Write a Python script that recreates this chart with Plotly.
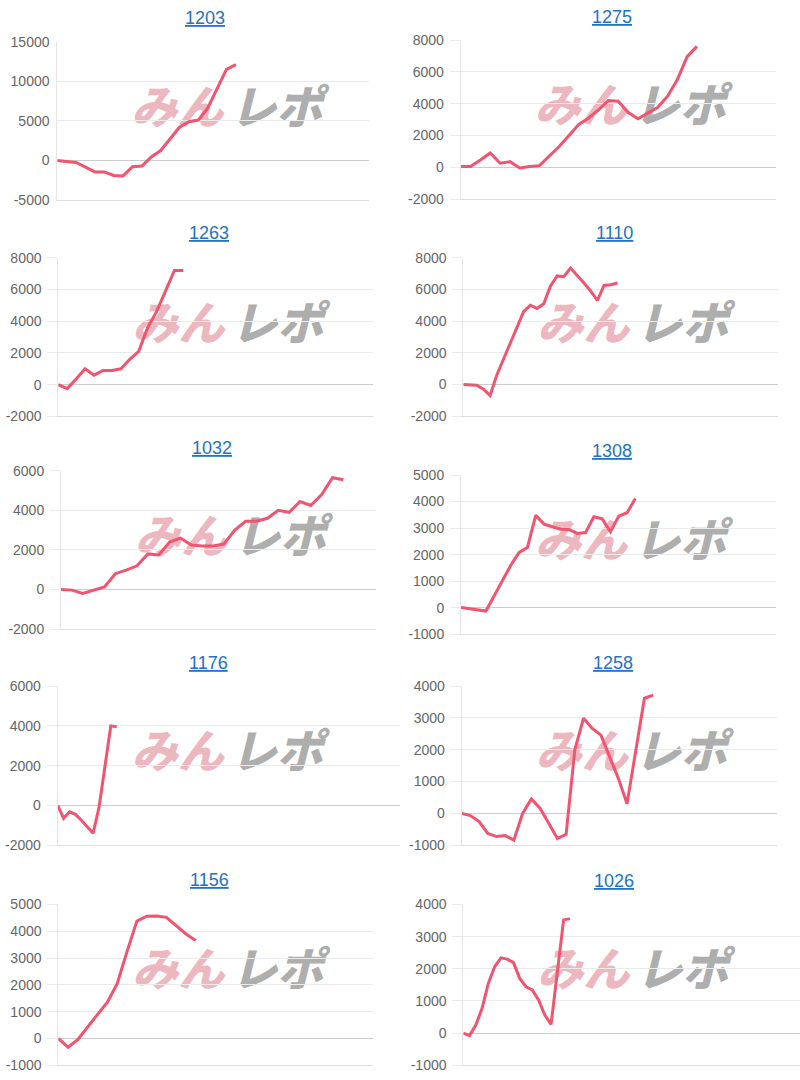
import plotly.graph_objects as go

# ---- data ----
titles = ["1203", "1275", "1263", "1110", "1032", "1308", "1176", "1258", "1156", "1026"]

s1203 = [0, -100, -250, -850, -1450, -1450, -1900, -1950, -800, -700, 450, 1250, 2700,
         4200, 4900, 5100, 6600, 9000, 11500, 12100]
s1275 = [50, 50, 450, 900, 250, 350, -50, 50, 100, 700, 1300, 2000, 2700, 3100, 3600,
         4200, 4150, 3450, 3050, 3400, 3750, 4450, 5500, 6950, 7600]
s1263 = [0, -250, 350, 1000, 600, 900, 900, 1000, 1600, 2100, 3600, 4600, 5900, 7200, 7200]
s1110 = [0, -30, -50, -300, -700, 600, 1600, 2600, 3700, 4600, 5000, 4800, 5100, 6200,
         6850, 6800, 7350, 6900, 6400, 5900, 5300, 6250, 6300, 6400]
s1032 = [0, -30, -200, -50, 130, 800, 980, 1200, 1800, 1750, 2400, 2600, 2250, 2200, 2200,
         2300, 3000, 3450, 3450, 3600, 4000, 3900, 4450, 4250, 4800, 5650, 5550]
s1308 = [0, -40, -80, -130, 450, 1050, 1600, 2080, 2270, 3480, 3150, 3050, 2960, 2950,
         2800, 2830, 3430, 3350, 2860, 3450, 3580, 4120]
s1176 = [0, -650, -320, -450, -750, -1100, -1400, -100, 2000, 4000, 3960]
s1258 = [0, -70, -260, -630, -730, -700, -840, 0, 450, 160, -310, -790, -660, 2000, 2990,
         2670, 2460, 1780, 1100, 300, 2000, 3620, 3720]
s1156 = [0, -330, -40, 450, 900, 1350, 2050, 3250, 4380, 4560, 4570, 4520, 4220, 3900, 3650]
s1026 = [0, -80, 250, 770, 1550, 2060, 2340, 2300, 2190, 1700, 1440, 1340, 1030, 560, 270,
         1900, 3520, 3560]

series = [s1203, s1275, s1263, s1110, s1032, s1308, s1176, s1258, s1156, s1026]

y_min = [-5000, -2000, -2000, -2000, -2000, -1000, -2000, -1000, -1000, -1000]
y_max = [15000, 8000, 8000, 8000, 6000, 5000, 6000, 4000, 5000, 4000]
y_step = [5000, 2000, 2000, 2000, 2000, 1000, 2000, 1000, 1000, 1000]

# ---- layout geometry (pixels) ----
W, H = 800, 1080
# the captured page is offset/compressed vertically; compensate
Y_OFF, Y_SCALE = 8.0, 0.985


def px_to_paper_y(y):
    return 1 - ((y - Y_OFF) / Y_SCALE) / H


boxes = [  # left, right, top, bottom of plot area
    (57.3, 369.3, 41.7, 200.0),
    (460.7, 775.7, 40.0, 199.0),
    (58.3, 372.7, 257.7, 416.3),
    (463.3, 778.3, 257.7, 416.0),
    (61.0, 376.0, 470.7, 629.0),
    (461.0, 775.7, 475.0, 634.0),
    (57.7, 400.0, 686.0, 845.0),
    (461.7, 776.7, 686.0, 845.0),
    (58.3, 372.7, 904.3, 1065.0),
    (463.3, 800.0, 904.3, 1065.0),
]
x_span = [33.2, 32.0, 35.2, 47.0, 29.0, 37.9, 58.0, 36.2, 32.0, 53.7]
tick_len = [0, 10, 10, 10, 10, 10, 10, 10, 10, 10]
title_pos = [(205, 17.5), (611.7, 17), (209, 233), (614, 233), (211.7, 447.7),
             (611.7, 450.7), (208, 662.7), (612.7, 663.3), (209, 880), (614, 880.7)]

LINE = "#f2546f"
GRID = "#ebebeb"
fig = go.Figure()
layout = {}
annotations = []
shapes = []

for k in range(10):
    sfx = "" if k == 0 else str(k + 1)
    L, R, T, B = boxes[k]
    s = series[k]
    fig.add_trace(go.Scatter(
        x=list(range(len(s))), y=s, mode="lines",
        line=dict(color=LINE, width=3),
        xaxis="x" + sfx, yaxis="y" + sfx,
        hoverinfo="skip", showlegend=False,
    ))
    tv = list(range(y_min[k], y_max[k] + 1, y_step[k]))
    layout["xaxis" + sfx] = dict(
        domain=[L / W, R / W], range=[0, x_span[k]], anchor="y" + sfx,
        showgrid=False, zeroline=False, showticklabels=False,
        showline=True, linecolor="#dddddd", linewidth=1, fixedrange=True,
    )
    layout["yaxis" + sfx] = dict(
        domain=[px_to_paper_y(B), px_to_paper_y(T)], range=[y_min[k], y_max[k]],
        tickmode="array", tickvals=tv, ticktext=[str(v) for v in tv],
        anchor="x" + sfx,
        showgrid=True, gridcolor=GRID, gridwidth=1,
        zeroline=True, zerolinecolor="#cccccc", zerolinewidth=1,
        showline=True, linecolor="#e6e6e6", linewidth=1,
        ticks="outside" if tick_len[k] else "", ticklen=max(tick_len[k], 1),
        tickcolor=GRID, tickwidth=1,
        ticklabelstandoff=3 if tick_len[k] else 4,
        tickfont=dict(family="Arial, Liberation Sans, sans-serif", size=14, color="#666666"),
        fixedrange=True,
    )
    cx, cy = title_pos[k]
    annotations.append(dict(
        text="<u>" + titles[k] + "</u>", x=cx / W, y=px_to_paper_y(cy),
        xref="paper", yref="paper", xanchor="center", yanchor="middle",
        showarrow=False,
        font=dict(family="Arial, Liberation Sans, sans-serif", size=18, color="#2372c4"),
    ))
    # watermark (below traces)
    wy = T + 69
    for txt, off, col in (("みん", 120, "rgba(210,80,95,0.42)"),
                          ("レポ", 219, "rgba(120,120,120,0.62)")):
        wx = L + off
        shapes.append(dict(
            type="rect", xref="paper", yref="paper",
            x0=(wx - 50) / W, x1=(wx + 50) / W,
            y0=px_to_paper_y(wy + 22), y1=px_to_paper_y(wy - 22),
            line=dict(width=0), fillcolor="rgba(0,0,0,0)", layer="below",
            label=dict(text=txt, textposition="middle center",
                       font=dict(family="Noto Sans CJK JP", size=46, color=col,
                                 weight=900, style="italic")),
        ))

fig.update_layout(
    width=W, height=H, margin=dict(l=0, r=0, t=0, b=0),
    paper_bgcolor="white", plot_bgcolor="white",
    annotations=annotations, shapes=shapes, showlegend=False,
    **layout,
)
fig.write_html(
    "out.html",
    config={"displayModeBar": False, "responsive": False},
    post_script=(
        "var d=document.getElementById('{plot_id}');"
        "d.style.position='fixed';d.style.left='0px';d.style.top='0px';"
        "document.body.style.margin='0px';"
        "document.body.style.overflow='hidden';"
        "document.documentElement.style.overflow='hidden';"
    ),
)
